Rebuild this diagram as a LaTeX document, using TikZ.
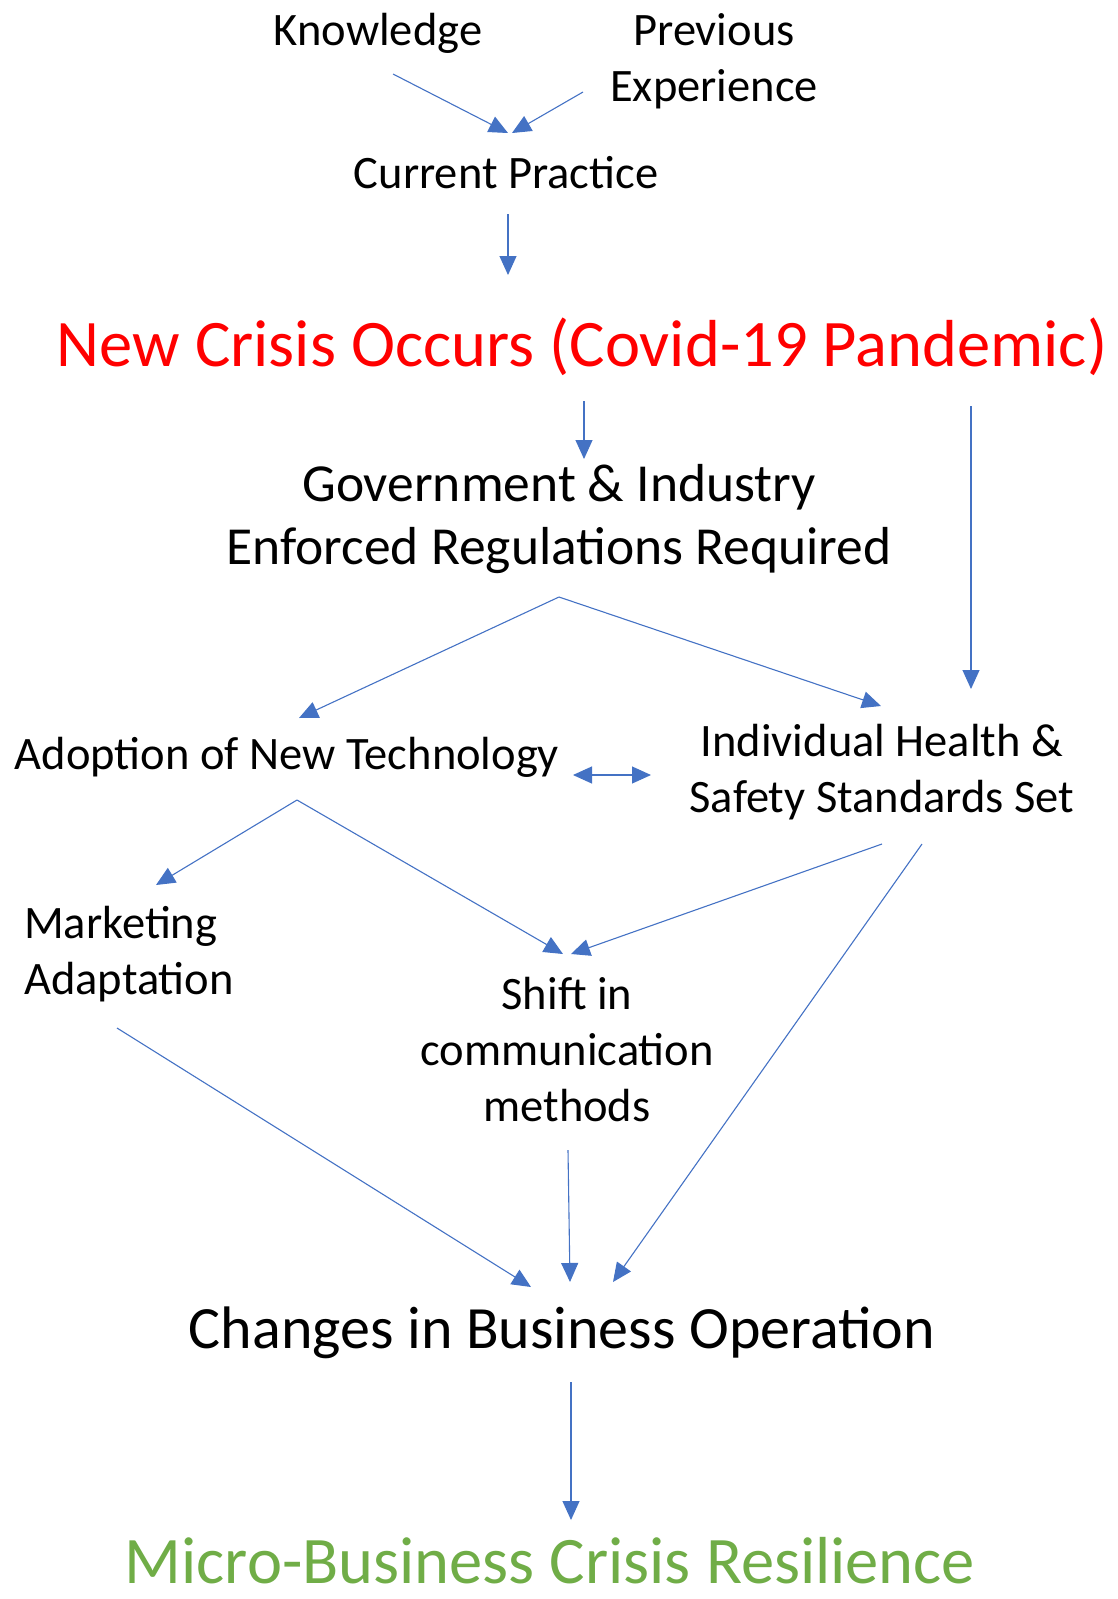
\documentclass[tikz,border=0pt]{standalone}
\usepackage{fontspec}
\setmainfont{Carlito}
\usepackage{tikz}
\usetikzlibrary{calc,positioning,arrows.meta}

\definecolor{flowblue}{HTML}{4472C4}
\definecolor{crisisred}{HTML}{FF0000}
\definecolor{resgreen}{HTML}{70AD47}

\tikzset{
    flow/.style={draw=flowblue, line width=1.1pt, -{Triangle[length=19pt,width=17pt]}},
    txt/.style={inner sep=0pt, align=center, font=\fontsize{46.5}{56}\selectfont},
    big/.style={inner sep=0pt, align=center, font=\fontsize{53.5}{63}\selectfont},
}

\begin{document}
\begin{tikzpicture}[x=1pt, y=-1pt]
    \path[use as bounding box] (0,0) rectangle (1118,1599);

    \node [txt] (know) at (378,33) {Knowledge};
    \node [txt] (prev) at (714,61) {Previous\\Experience};
    \node [txt] (cur) at (506,173) {Current Practice};

    \node [inner sep=0pt, text=crisisred, font=\fontsize{66.5}{80}\selectfont] (crisis) at (582,347) {New Crisis Occurs (Covid-19 Pandemic)};

    \node [big] (gov) at (559,519) {Government \& Industry\\Enforced Regulations Required};
    \node [txt] (tech) at (287,757) {Adoption of New Technology};
    \node [txt] (health) at (882,772) {Individual Health \&\\Safety Standards Set};
    \node [txt, align=left] (mkt) at (129,954) {Marketing\\Adaptation};
    \node [txt] (shift) at (567,1050) {Shift in\\communication\\methods};

    \node [inner sep=0pt, font=\fontsize{60}{72}\selectfont] (ops) at (562,1333) {Changes in Business Operation};
    \node [inner sep=0pt, text=resgreen, font=\fontsize{66.5}{80}\selectfont] (resil) at (550,1561) {Micro-Business Crisis Resilience};

    % top part
    \draw[flow] ($(know)+(15,41)$) -- ($(cur)+(2,-40)$);
    \draw[flow] ($(prev)+(-131,31)$) -- ($(cur)+(6,-40)$);
    \draw[flow] ($(cur)+(2,41)$) -- ($(crisis)+(-74,-72)$);

    % crisis to regulations and standards
    \draw[flow] ($(crisis)+(2,54)$) -- ($(gov)+(25,-60)$);
    \draw[flow] ($(crisis)+(389,59)$) -- ($(health)+(89,-83)$);
    \draw[flow] ($(gov)+(0,78)$) -- ($(tech)+(12,-39)$);
    \draw[flow] ($(gov)+(0,78)$) -- ($(health)+(-1,-66)$);
    \draw[flow, {Triangle[length=19pt,width=17pt]}-{Triangle[length=19pt,width=17pt]}] ($(tech)+(286,18)$) -- ($(health)+(-231,3)$);

    % second level
    \draw[flow] ($(tech)+(10,43)$) -- ($(mkt)+(27,-69)$);
    \draw[flow] ($(tech)+(10,43)$) -- ($(shift)+(-4,-96)$);
    \draw[flow] ($(health)+(0,72)$) -- ($(shift)+(4,-96)$);

    % into operations
    \draw[flow] ($(mkt)+(-12,74)$) -- ($(ops)+(-31,-46)$);
    \draw[flow] ($(shift)+(1,100)$) -- ($(ops)+(8,-51)$);
    \draw[flow] ($(health)+(40,72)$) -- ($(ops)+(51,-51)$);
    \draw[flow] ($(ops)+(9,49)$) -- ($(resil)+(21,-41)$);
\end{tikzpicture}
\end{document}
